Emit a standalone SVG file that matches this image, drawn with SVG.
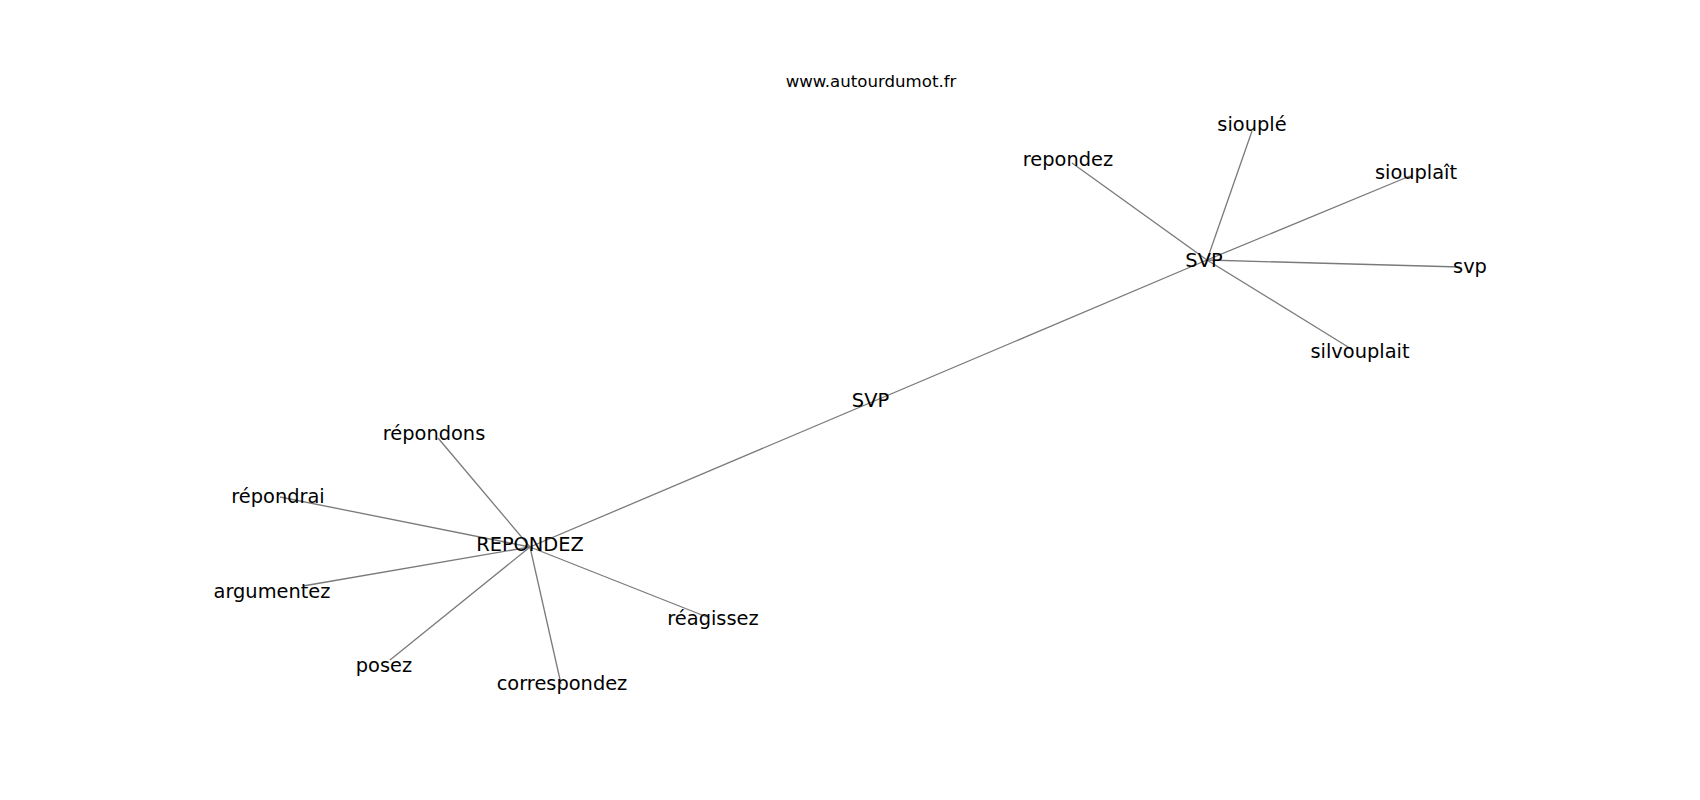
<svg xmlns="http://www.w3.org/2000/svg" width="1700" height="800" viewBox="0 0 1700 800">
<style>
.e{stroke:#7a7a7a;stroke-width:1.3;fill:none}
.t{font-family:"DejaVu Sans","Liberation Sans",sans-serif;font-size:19.4px;fill:#000;text-anchor:middle}
.h{font-family:"DejaVu Sans","Liberation Sans",sans-serif;font-size:16.6px;fill:#000;text-anchor:middle}
</style>
<rect width="1700" height="800" fill="#fff"/>
<text class="h" x="871" y="87">www.autourdumot.fr</text>
<g id="edges">
<line class="e" x1="1207" y1="260" x2="1072" y2="163"/>
<line class="e" x1="1207" y1="260" x2="1252" y2="131"/>
<line class="e" x1="1207" y1="260" x2="1410" y2="176"/>
<line class="e" x1="1207" y1="260" x2="1460" y2="267"/>
<line class="e" x1="1207" y1="260" x2="1353" y2="350"/>
<line class="e" x1="530" y1="547" x2="438" y2="438"/>
<line class="e" x1="530" y1="547" x2="280" y2="497"/>
<line class="e" x1="530" y1="547" x2="303" y2="586"/>
<line class="e" x1="530" y1="547" x2="390" y2="660"/>
<line class="e" x1="530" y1="547" x2="561" y2="684"/>
<line class="e" x1="530" y1="547" x2="707" y2="617"/>
<line class="e" x1="530" y1="547" x2="1207" y2="260"/>
<text class="t" x="870.5" y="407">SVP</text>
</g>
<g id="n-SVP"><text class="t" x="1204" y="267">SVP</text></g>
<g id="n-repondez"><text class="t" x="1068" y="166">repondez</text></g>
<g id="n-sioupleacute"><text class="t" x="1252" y="131">siouplé</text></g>
<g id="n-siouplait"><text class="t" x="1416" y="179">siouplaît</text></g>
<g id="n-svp"><text class="t" x="1470" y="273">svp</text></g>
<g id="n-silvouplait"><text class="t" x="1360" y="358">silvouplait</text></g>
<g id="n-REPONDEZ"><text class="t" x="530" y="551">REPONDEZ</text></g>
<g id="n-repondons"><text class="t" x="434" y="440">répondons</text></g>
<g id="n-repondrai"><text class="t" x="278" y="503">répondrai</text></g>
<g id="n-argumentez"><text class="t" x="272" y="598">argumentez</text></g>
<g id="n-posez"><text class="t" x="384" y="672">posez</text></g>
<g id="n-correspondez"><text class="t" x="562" y="690">correspondez</text></g>
<g id="n-reagissez"><text class="t" x="713" y="625">réagissez</text></g>
</svg>
